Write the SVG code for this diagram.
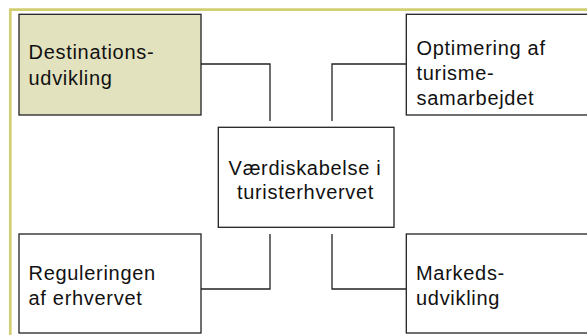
<svg xmlns="http://www.w3.org/2000/svg" width="587" height="335" viewBox="0 0 587 335">
<style>
.box{fill:#ffffff;stroke:#222222;stroke-width:1.3}
.hl{fill:#e2e2bf}
.t{font-family:"Liberation Sans",Arial,sans-serif;font-size:20px;letter-spacing:0.7px;fill:#111111}
.c{fill:none;stroke:#222222;stroke-width:1.3}
</style>
<rect width="587" height="335" fill="#ffffff"/>
<path d="M10.3,335 V9.7 H587" fill="none" stroke="#d2ce72" stroke-width="2.7"/>
<g id="connectors">
<path class="c" d="M201,64 H270 V121"/>
<path class="c" d="M406,64 H332 V121"/>
<path class="c" d="M270,234 V289 H201"/>
<path class="c" d="M332,234 V289 H406"/>
</g>
<g id="destinationsudvikling">
<rect class="box hl" x="19" y="14.3" width="182" height="100.7"/>
<text class="t" x="28.5" y="59">Destinations-</text>
<text class="t" x="28.5" y="85">udvikling</text>
</g>
<g id="optimering">
<rect class="box" x="406.3" y="14.3" width="200" height="100.7"/>
<text class="t" x="416.5" y="55">Optimering af</text>
<text class="t" x="416.5" y="80">turisme-</text>
<text class="t" x="416.5" y="105">samarbejdet</text>
</g>
<g id="vaerdiskabelse">
<rect class="box" x="218.3" y="127.3" width="175.7" height="100"/>
<text class="t" x="305" y="174.5" text-anchor="middle">Værdiskabelse i</text>
<text class="t" x="305.5" y="198.5" text-anchor="middle">turisterhvervet</text>
</g>
<g id="reguleringen">
<rect class="box" x="19" y="234" width="182" height="99"/>
<text class="t" x="28.5" y="280">Reguleringen</text>
<text class="t" x="28.5" y="305">af erhvervet</text>
</g>
<g id="markedsudvikling">
<rect class="box" x="406.3" y="234" width="200" height="99"/>
<text class="t" x="416" y="280">Markeds-</text>
<text class="t" x="416" y="305">udvikling</text>
</g>
</svg>
